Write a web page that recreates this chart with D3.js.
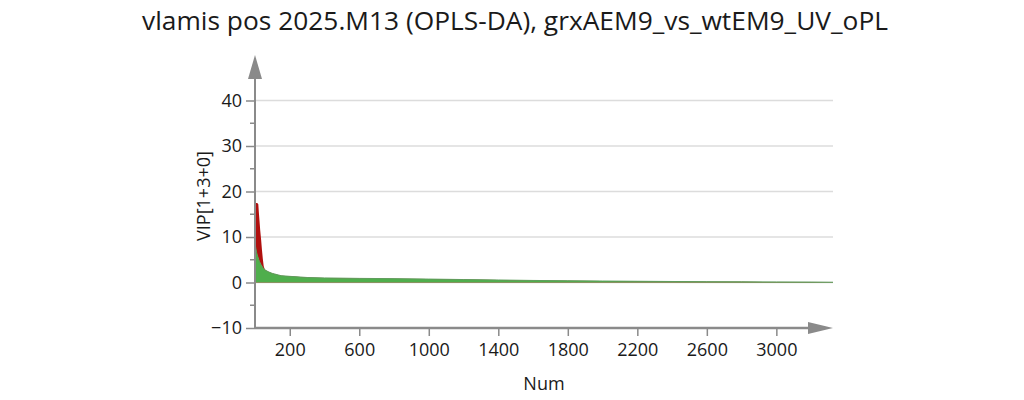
<!DOCTYPE html>
<html lang="en">
<head>
  <meta charset="utf-8">
  <title>VIP plot</title>
  <script src="https://d3js.org/d3.v7.min.js"></script>
  <style>
    html, body { margin: 0; padding: 0; background: #fff; }
    svg { display: block; }
    text { font-family: "Open Sans", "Noto Sans", sans-serif; fill: #1a1a1a; }
  </style>
</head>
<body>
  <svg width="1024" height="400"></svg>
  <script>
    // sorted VIP values
    const num     = [1, 5, 10, 15, 19, 22, 26, 30, 35, 40, 45, 50, 55, 60, 80, 100, 150, 200, 300, 400, 600, 800, 1000, 1200, 1400, 1600, 1800, 2000, 2200, 2400, 2600, 2800, 3000, 3200, 3326];
    const vipHigh = [17.5, 17.5, 17.5, 17.4, 17.2, 15.5, 13.5, 11.5, 9.5, 7.2, 5.2, 3.6, 3.0, 2.7, 2.3, 2.0, 1.5, 1.35, 1.1, 1.0, 0.9, 0.85, 0.75, 0.65, 0.55, 0.45, 0.38, 0.32, 0.27, 0.22, 0.18, 0.15, 0.12, 0.09, 0.05];
    const vipLow  = [8.4, 7.5, 6.5, 5.8, 5.4, 5.0, 4.6, 4.3, 3.9, 3.6, 3.3, 3.1, 2.9, 2.7, 2.3, 2.0, 1.5, 1.35, 1.1, 1.0, 0.9, 0.85, 0.75, 0.65, 0.55, 0.45, 0.38, 0.32, 0.27, 0.22, 0.18, 0.15, 0.12, 0.09, 0.05];

    const xTicks = [200, 600, 1000, 1400, 1800, 2200, 2600, 3000];
    const yTicks = [-10, 0, 10, 20, 30, 40];
    const yMinor = [-5, 5, 15, 25, 35];

    const title = "vlamis pos 2025.M13 (OPLS-DA), grxAEM9_vs_wtEM9_UV_oPL";

    const svg = d3.select("svg");
    const axisColor = "#8a8a8a";

    const x = d3.scaleLinear().domain([0, 3326]).range([255, 833]);
    const y = d3.scaleLinear().domain([-10, 50]).range([328, 55]);

    const rows = num.map((n, i) => ({ n, hi: vipHigh[i], lo: vipLow[i] }));

    // grid
    svg.append("g")
      .selectAll("line")
      .data(yTicks.filter(v => v >= 0))
      .join("line")
        .attr("x1", x(0)).attr("x2", 833)
        .attr("y1", d => y(d)).attr("y2", d => y(d))
        .attr("stroke", "#dcdcdc")
        .attr("stroke-width", 1.5);

    // areas
    const areaHi = d3.area().x(d => x(d.n)).y0(y(0)).y1(d => y(d.hi));
    const areaLo = d3.area().x(d => x(d.n)).y0(y(0)).y1(d => y(d.lo));

    svg.append("path").datum(rows).attr("d", areaHi).attr("fill", "#b0100e");
    svg.append("path").datum(rows).attr("d", areaLo).attr("fill", "#4fae4c");
    svg.append("path").datum(rows)
      .attr("d", d3.line().x(d => x(d.n)).y(d => y(d.lo)))
      .attr("fill", "none").attr("stroke", "#5f9e5d").attr("stroke-width", 1);

    // y axis
    const yAxis = svg.append("g").attr("transform", `translate(${x(0)},0)`)
      .call(d3.axisLeft(y).tickValues(yTicks).tickSize(9).tickPadding(4).tickFormat(d3.format("d")));
    yAxis.select(".domain").remove();
    yAxis.selectAll(".tick line").attr("stroke", axisColor).attr("stroke-width", 1.5);
    yAxis.selectAll(".tick text").attr("font-size", 18).style("font-family", "'Open Sans', sans-serif").attr("fill", "#1a1a1a");

    svg.append("g")
      .selectAll("line")
      .data(yMinor)
      .join("line")
        .attr("x1", x(0) - 5).attr("x2", x(0))
        .attr("y1", d => y(d)).attr("y2", d => y(d))
        .attr("stroke", axisColor).attr("stroke-width", 1.5);

    svg.append("line")
      .attr("x1", x(0)).attr("x2", x(0))
      .attr("y1", y(-10)).attr("y2", 70)
      .attr("stroke", axisColor).attr("stroke-width", 2);
    svg.append("path")
      .attr("d", `M${x(0)},55 L${x(0) - 7},79 L${x(0) + 7},79 Z`)
      .attr("fill", axisColor);

    // x axis
    const xAxis = svg.append("g").attr("transform", `translate(0,${y(-10)})`)
      .call(d3.axisBottom(x).tickValues(xTicks).tickSize(8).tickPadding(7).tickFormat(d3.format("d")));
    xAxis.select(".domain").remove();
    xAxis.selectAll(".tick line").attr("stroke", axisColor).attr("stroke-width", 1.5);
    xAxis.selectAll(".tick text").attr("font-size", 18).style("font-family", "'Open Sans', sans-serif").attr("fill", "#1a1a1a");

    svg.append("line")
      .attr("x1", x(0)).attr("x2", 815)
      .attr("y1", y(-10)).attr("y2", y(-10))
      .attr("stroke", axisColor).attr("stroke-width", 2.5);
    svg.append("path")
      .attr("d", `M833,${y(-10)} L808,${y(-10) - 6} L808,${y(-10) + 6} Z`)
      .attr("fill", axisColor);

    // labels
    svg.append("text")
      .attr("x", 544).attr("y", 390)
      .attr("text-anchor", "middle")
      .attr("font-size", 18)
      .text("Num");

    svg.append("text")
      .attr("transform", "translate(210,196) rotate(-90)")
      .attr("text-anchor", "middle")
      .attr("font-size", 18)
      .text("VIP[1+3+0]");

    svg.append("text")
      .attr("x", 515).attr("y", 30)
      .attr("text-anchor", "middle")
      .attr("font-size", 25)
      .attr("textLength", 746)
      .attr("lengthAdjust", "spacingAndGlyphs")
      .text(title);
  </script>
</body>
</html>
